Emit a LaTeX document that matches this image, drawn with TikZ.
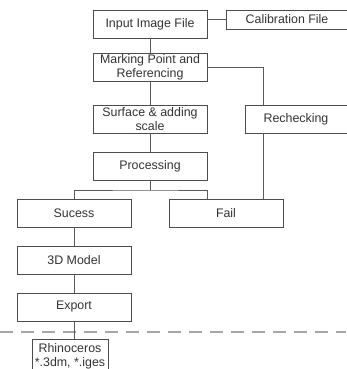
\documentclass[tikz,border=0pt]{standalone}
\usepackage{fontspec}
\setmainfont{Liberation Sans}
\begin{document}
\begin{tikzpicture}[x=1pt, y=-1pt,
    blk/.style={draw=black!70, line width=0.9pt, fill=white, text=black!80, align=center,
        inner sep=1pt, minimum width=114pt, minimum height=28pt,
        font=\fontsize{12.4}{13.6}\selectfont},
    wire/.style={black!65, line width=0.9pt}]
    % Workflow of the photo modelling
    \useasboundingbox (0,0) rectangle (346,369);
    % separator
    \draw[black!35, line width=1.2pt, dash pattern=on 13pt off 8pt] (0,332) -- (346,332);
    \node[blk] (inp) at (150,24) {Input Image File};
    \node[blk, minimum width=122pt, minimum height=19pt] (cal) at (287,19.5) {Calibration File};
    \node[blk] (mark) at (150,67) {Marking Point and\\Referencing};
    \node[blk] (surf) at (150,119) {Surface \& adding\\scale};
    \node[blk, minimum width=102pt] (rech) at (296,119) {Rechecking};
    \node[blk] (proc) at (150,166) {Processing};
    \node[blk] (succ) at (74,213) {Sucess};
    \node[blk] (fail) at (226,213) {Fail};
    \node[blk] (model) at (74,260) {3D Model};
    \node[blk] (expo) at (74,307) {Export};
    \node[blk, minimum width=76pt, minimum height=34pt] (rhino) at (70,356) {Rhinoceros\\*.3dm, *.iges};
    \coordinate (split) at (150,190);
    \coordinate (rtop) at ([xshift=19pt]rech.north west);
    \coordinate (rbot) at ([xshift=19pt]rech.south west);
    % connectors
    \draw[wire] (inp.east |- cal.west) -- (cal.west);
    \draw[wire] (inp.south) -- (mark.north);
    \draw[wire] (mark.south) -- (surf.north);
    \draw[wire] (surf.south) -- (proc.north);
    \draw[wire] (mark.east) -| (rtop);
    \draw[wire] (rbot) -- (rbot |- fail.north);
    \draw[wire] (proc.south) -- (split);
    \draw[wire] (succ.north) |- (split) -| (fail.north -| proc.east);
    \draw[wire] (succ.south) -- (model.north);
    \draw[wire] (model.south) -- (expo.north);
    \draw[wire] (expo.south) -- (expo.south |- rhino.north);
\end{tikzpicture}
\end{document}
